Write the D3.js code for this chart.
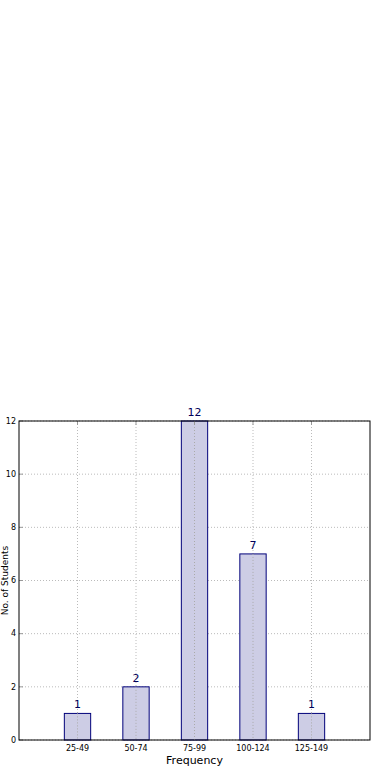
<!DOCTYPE html>
<html>
<head>
<meta charset="utf-8">
<script src="https://cdn.jsdelivr.net/npm/d3@7"></script>
<style>
  body { margin: 0; background: #fff; }
  svg { display: block; font-family: "DejaVu Sans", sans-serif; }
</style>
</head>
<body>
<div id="chart"></div>
<script>
var categories = ['25-49', '50-74', '75-99', '100-124', '125-149'];
var counts = [1, 2, 12, 7, 1];
var yTicks = [0, 2, 4, 6, 8, 10, 12];

var width = 390, height = 780;
var margin = { top: 421, right: 20, bottom: 40, left: 19 };
var plotW = width - margin.left - margin.right,
    plotH = height - margin.top - margin.bottom;

var svg = d3.select('#chart').append('svg')
    .attr('width', width)
    .attr('height', height);

var g = svg.append('g')
    .attr('transform', 'translate(' + margin.left + ',' + margin.top + ')');

// bars sit at 1..n, axis runs 0..n+1
var x = d3.scaleLinear().domain([0, categories.length + 1]).range([0, plotW]);
var y = d3.scaleLinear().domain([0, 12]).range([plotH, 0]);
var barW = x(0.45) - x(0);

// grid
g.selectAll('.hgrid').data(yTicks).enter()
    .append('line')
    .attr('x1', 0).attr('x2', plotW)
    .attr('y1', function(d) { return y(d); })
    .attr('y2', function(d) { return y(d); })
    .attr('stroke', '#bbb').attr('stroke-width', 1)
    .attr('stroke-dasharray', '1,2');

g.selectAll('.vgrid').data(categories).enter()
    .append('line')
    .attr('x1', function(d, i) { return x(i + 1); })
    .attr('x2', function(d, i) { return x(i + 1); })
    .attr('y1', 0).attr('y2', plotH)
    .attr('stroke', '#bbb').attr('stroke-width', 1)
    .attr('stroke-dasharray', '1,2');

// bars
g.selectAll('rect.bar').data(counts).enter()
    .append('rect')
    .attr('class', 'bar')
    .attr('x', function(d, i) { return x(i + 1) - barW / 2; })
    .attr('y', function(d) { return y(d); })
    .attr('width', barW)
    .attr('height', function(d) { return plotH - y(d); })
    .attr('fill', '#cdcde5')
    .attr('stroke', '#00007a')
    .attr('stroke-width', 1);

// grid shows through the bars
g.selectAll('.vgrid2').data(categories).enter()
    .append('line')
    .attr('x1', function(d, i) { return x(i + 1); })
    .attr('x2', function(d, i) { return x(i + 1); })
    .attr('y1', function(d, i) { return y(counts[i]); }).attr('y2', plotH)
    .attr('stroke', '#aaa').attr('stroke-width', 1)
    .attr('stroke-dasharray', '1,2');

// small inner tick marks
g.selectAll('.ytickm').data(yTicks).enter()
    .append('line')
    .attr('x1', 0).attr('x2', 4)
    .attr('y1', function(d) { return y(d); })
    .attr('y2', function(d) { return y(d); })
    .attr('stroke', '#999');
g.selectAll('.xtickm').data(categories).enter()
    .append('line')
    .attr('x1', function(d, i) { return x(i + 1); })
    .attr('x2', function(d, i) { return x(i + 1); })
    .attr('y1', 0).attr('y2', 4)
    .attr('stroke', '#999');

// value labels
g.selectAll('text.val').data(counts).enter()
    .append('text')
    .attr('x', function(d, i) { return x(i + 1); })
    .attr('y', function(d) { return y(d) - 5; })
    .attr('text-anchor', 'middle')
    .attr('font-size', 11)
    .attr('fill', '#00005a')
    .text(function(d) { return d; });

// frame
g.append('rect')
    .attr('width', plotW).attr('height', plotH)
    .attr('fill', 'none').attr('stroke', '#000').attr('stroke-width', 1);

// y tick labels
g.selectAll('text.ytick').data(yTicks).enter()
    .append('text')
    .attr('x', -3)
    .attr('y', function(d) { return y(d); })
    .attr('dy', '0.35em')
    .attr('text-anchor', 'end')
    .attr('font-size', 8)
    .attr('fill', '#000')
    .text(function(d) { return d; });

// x tick labels
g.selectAll('text.xtick').data(categories).enter()
    .append('text')
    .attr('x', function(d, i) { return x(i + 1); })
    .attr('y', plotH + 11)
    .attr('text-anchor', 'middle')
    .attr('font-size', 8)
    .attr('fill', '#000')
    .text(function(d) { return d; });

// axis labels
svg.append('text')
    .attr('x', margin.left + plotW / 2)
    .attr('y', 764)
    .attr('text-anchor', 'middle')
    .attr('font-size', 11)
    .text('Frequency');

svg.append('text')
    .attr('transform', 'translate(8,' + (margin.top + plotH / 2) + ') rotate(-90)')
    .attr('text-anchor', 'middle')
    .attr('font-size', 9)
    .text('No. of Students');
</script>
</body>
</html>
